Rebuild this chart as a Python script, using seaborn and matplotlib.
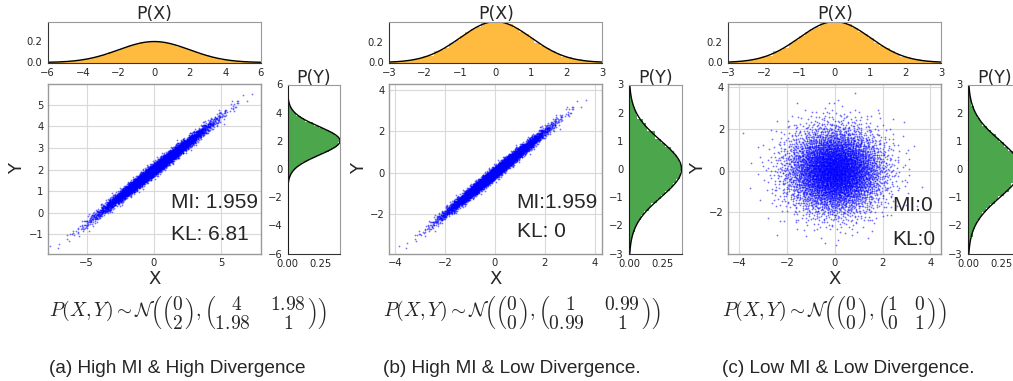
import numpy as np
import matplotlib
matplotlib.use("Agg")
import matplotlib.pyplot as plt
from matplotlib.ticker import MultipleLocator
import seaborn as sns

# distribution parameters shown under each panel
x_means = [0.0, 0.0, 0.0]
y_means = [2.0, 0.0, 0.0]
x_vars = [4.0, 1.0, 1.0]
y_vars = [1.0, 1.0, 1.0]
xy_covs = [1.98, 0.99, 0.0]
n_points = 6000

mi_labels = ["MI: 1.959", "MI:1.959", "MI:0"]
kl_labels = ["KL: 6.81", "KL: 0", "KL:0"]
captions = ["(a) High MI & High Divergence",
            "(b) High MI & Low Divergence.",
            "(c) Low MI & Low Divergence."]
formulas = [
    r"$P(X,Y) \sim \mathcal{N}\left(\genfrac{(}{)}{0}{0}{0}{2},"
    r"\genfrac{(}{)}{0}{0}{\ \ \ 4\quad\ \ 1.98}{1.98\quad\ \ \ 1\ \ }\right)$",
    r"$P(X,Y) \sim \mathcal{N}\left(\genfrac{(}{)}{0}{0}{0}{0},"
    r"\genfrac{(}{)}{0}{0}{\ \ \ 1\quad\ \ 0.99}{0.99\quad\ \ \ 1\ \ }\right)$",
    r"$P(X,Y) \sim \mathcal{N}\left(\genfrac{(}{)}{0}{0}{0}{0},"
    r"\genfrac{(}{)}{0}{0}{1\ \ \ 0}{0\ \ \ 1}\right)$",
]

# axis ranges as drawn
px_xlims = [(-6, 6), (-3, 3), (-3, 3)]
px_ylims = [(0, 0.39), (0, 0.4), (0, 0.4)]
py_ylims = [(-6, 6), (-3, 3), (-3, 3)]
py_yticks = [np.arange(-6, 7, 2), np.arange(-3, 4, 1), np.arange(-3, 4, 1)]
sc_xlims = [(-7.9, 7.93), (-4.24, 4.3), (-4.46, 4.46)]
sc_ylims = [(-1.88, 5.94), (-3.91, 4.26), (-3.96, 4.12)]
sc_xstep = [5, 2, 2]
sc_ystep = [1, 2, 2]
mi_pos = [(0.58, 0.27), (0.598, 0.268), (0.77, 0.254)]
kl_pos = [(0.58, 0.08), (0.598, 0.096), (0.77, 0.053)]


def halton(n, base):
    # deterministic low-discrepancy sequence in (0, 1)
    i = np.arange(1, n + 1)
    seq = np.zeros(n)
    f = 1.0
    while np.any(i > 0):
        f /= base
        seq += f * (i % base)
        i = i // base
    return seq


def bivariate_points(mx, my, vx, vy, cxy, n):
    u1 = halton(n, 2)
    u2 = halton(n, 3)
    r = np.sqrt(-2 * np.log(u1))
    z1 = r * np.cos(2 * np.pi * u2)
    z2 = r * np.sin(2 * np.pi * u2)
    sx = np.sqrt(vx)
    xs = mx + sx * z1
    ys = my + (cxy / sx) * z1 + np.sqrt(vy - cxy ** 2 / vx) * z2
    return xs, ys


def normal_pdf(t, mu, var):
    return np.exp(-(t - mu) ** 2 / (2 * var)) / np.sqrt(2 * np.pi * var)


sns.set_style("whitegrid")
plt.rcParams["font.family"] = ["DejaVu Sans"]
plt.rcParams["mathtext.fontset"] = "cm"

W, H = 1013, 381
fig = plt.figure(figsize=(W / 100, H / 100), dpi=100)


def rect(l, t, r, b):
    return [l / W, 1 - b / H, (r - l) / W, (b - t) / H]


panel_left = [47.7, 389.2, 728.3]
text_left = [49, 383, 722]
spine_col = "0.6"

for k in range(3):
    L = panel_left[k]
    xs, ys = bivariate_points(x_means[k], y_means[k], x_vars[k], y_vars[k],
                              xy_covs[k], n_points)

    # scatter
    ax = fig.add_axes(rect(L, 84.3, L + 213, 253.5))
    sns.scatterplot(x=xs, y=ys, s=1.6, color="blue", alpha=0.55,
                    linewidth=0, ax=ax)
    ax.set_xlim(sc_xlims[k])
    ax.set_ylim(sc_ylims[k])
    ax.xaxis.set_major_locator(MultipleLocator(sc_xstep[k]))
    ax.yaxis.set_major_locator(MultipleLocator(sc_ystep[k]))
    ax.grid(True, color="0.85", linewidth=0.8)
    ax.tick_params(length=0, labelsize=7.2, pad=3, colors="0.15")
    for s in ax.spines.values():
        s.set_color(spine_col)
        s.set_linewidth(1)
    ax.set_xlabel("X", fontsize=13)
    ax.set_ylabel("Y", fontsize=13)
    ax.xaxis.set_label_coords(0.5, -0.1)
    ax.yaxis.set_label_coords(-0.1, 0.5)
    ax.text(*mi_pos[k], mi_labels[k], transform=ax.transAxes,
            fontsize=15, family="Liberation Sans")
    ax.text(*kl_pos[k], kl_labels[k], transform=ax.transAxes,
            fontsize=15, family="Liberation Sans")

    # top marginal P(X)
    axt = fig.add_axes(rect(L, 21.5, L + 213, 62.5))
    sns.histplot(x=xs, stat="density", bins=50, color="orange", alpha=0.75,
                 linewidth=0, ax=axt)
    gx = np.linspace(px_xlims[k][0], px_xlims[k][1], 400)
    axt.plot(gx, normal_pdf(gx, x_means[k], x_vars[k]), color="black", lw=1)
    axt.set_xlim(px_xlims[k])
    axt.set_ylim(px_ylims[k])
    axt.set_yticks([0.0, 0.2])
    axt.set_ylabel("")
    axt.grid(False)
    axt.tick_params(length=3, width=0.8, labelsize=7.2, pad=1, colors="0.15")
    for s in axt.spines.values():
        s.set_color(spine_col)
    axt.spines["bottom"].set_color("0.2")
    axt.spines["left"].set_color("0.2")
    axt.set_title("P(X)", fontsize=12.5, pad=2)

    # right marginal P(Y)
    axr = fig.add_axes(rect(L + 240, 84.5, L + 292.5, 253.5))
    sns.histplot(y=ys, stat="density", bins=50, color="green", alpha=0.7,
                 linewidth=0, ax=axr)
    gy = np.linspace(py_ylims[k][0], py_ylims[k][1], 400)
    axr.plot(normal_pdf(gy, y_means[k], y_vars[k]), gy, color="black", lw=1)
    axr.set_ylim(py_ylims[k])
    axr.set_xlim(0, 0.4)
    axr.set_xticks([0.0, 0.25])
    axr.set_xticklabels(["0.00", "0.25"])
    axr.set_yticks(py_yticks[k])
    axr.set_xlabel("")
    axr.grid(False)
    axr.tick_params(length=3, width=0.8, labelsize=7.2, pad=1, colors="0.15")
    for s in axr.spines.values():
        s.set_color(spine_col)
    axr.spines["left"].set_color("0.1")
    axr.spines["bottom"].set_color("0.2")
    axr.set_title("P(Y)", fontsize=12.5, pad=1)

    # formula and caption
    fig.text(text_left[k] / W, 1 - 313 / H, formulas[k], fontsize=14,
             va="center", ha="left")
    fig.text(text_left[k] / W, 1 - 372.7 / H, captions[k], fontsize=13.7,
             va="baseline", ha="left", family="Liberation Sans")

fig.savefig("out.png", dpi=100)
